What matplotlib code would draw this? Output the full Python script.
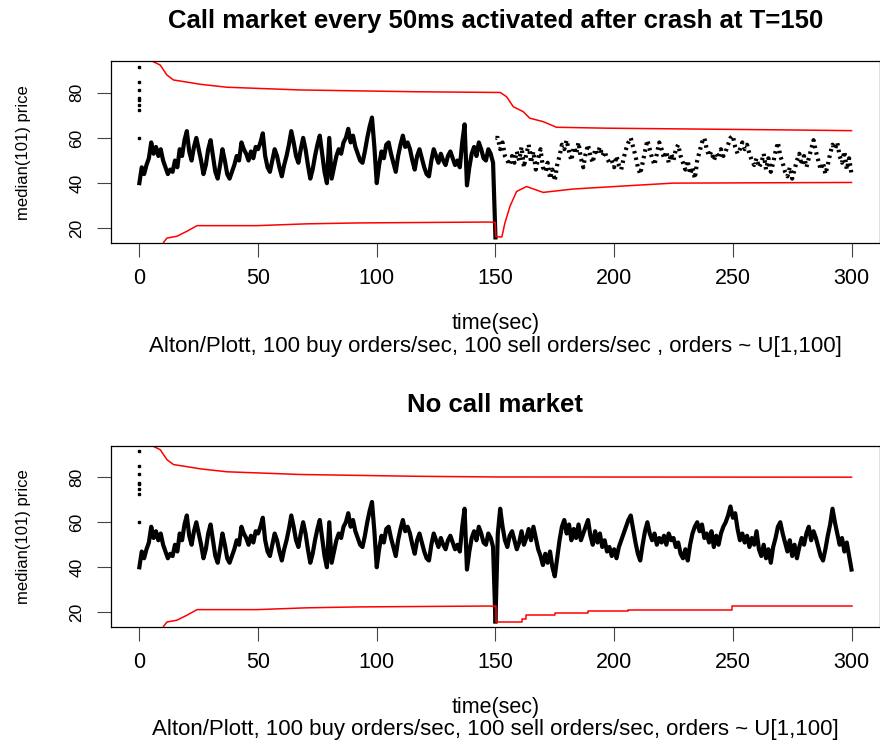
import matplotlib
matplotlib.use("Agg")
import matplotlib.pyplot as plt
import numpy as np

plt.rcParams['font.family'] = ['Liberation Sans', 'DejaVu Sans']

# median price, first 150 sec (same in both runs), one reading per second
t_first = np.arange(0, 151)
price_first = [40, 47, 44, 48, 51, 58, 53, 56, 52, 55,
               50, 47, 44, 46, 45, 50, 47, 55, 52, 59,
               63, 54, 50, 56, 60, 55, 50, 44, 48, 55,
               59, 52, 45, 42, 48, 55, 50, 44, 42, 45,
               48, 52, 50, 58, 55, 53, 50, 54, 51, 56,
               55, 58, 62, 52, 47, 45, 50, 55, 52, 47,
               43, 48, 52, 57, 63, 58, 52, 49, 55, 60,
               55, 48, 42, 46, 52, 57, 61, 53, 45, 40,
               60, 42, 47, 52, 55, 53, 58, 60, 64, 58,
               61, 56, 53, 50, 49, 54, 60, 65, 69, 56,
               40, 48, 54, 51, 57, 58, 53, 49, 45, 52,
               57, 61, 56, 58, 55, 50, 46, 52, 55, 51,
               47, 44, 43, 50, 55, 52, 49, 53, 50, 48,
               52, 54, 51, 48, 50, 47, 58, 66, 39, 47,
               53, 56, 52, 58, 55, 51, 50, 55, 53, 49,
               16]

# first prints at t=0
start_dots = [91.5, 84.9, 81.2, 77.5, 76.8, 74.6, 72.4, 59.9]

t_second = np.arange(151, 301)
# with call market after crash
price_call = [60, 55, 58, 52, 50, 48, 52, 49, 54, 50,
              56, 47, 53, 57, 49, 54, 46, 51, 55, 47,
              45, 49, 42, 46, 41, 48, 52, 57, 55, 59,
              54, 50, 56, 53, 58, 51, 47, 53, 57, 52,
              49, 55, 53, 56, 52, 54, 51, 49, 50, 47,
              52, 48, 46, 51, 55, 58, 60, 56, 52, 47,
              44, 49, 54, 59, 55, 51, 48, 53, 58, 55,
              51, 54, 49, 53, 50, 55, 57, 52, 49, 46,
              50, 44, 47, 42, 50, 54, 58, 60, 55, 52,
              54, 50, 53, 51, 55, 52, 54, 57, 60, 61,
              56, 53, 55, 58, 55, 57, 53, 50, 48, 51,
              47, 49, 53, 46, 51, 45, 49, 54, 58, 52,
              49, 45, 43, 47, 42, 46, 50, 53, 48, 52,
              47, 51, 55, 59, 54, 50, 46, 49, 44, 48,
              53, 57, 55, 58, 52, 49, 54, 46, 51, 44]
# no call market
price_nocall = [55, 66, 58, 52, 49, 54, 56, 52, 48, 51,
                56, 50, 53, 57, 52, 58, 53, 48, 45, 41,
                46, 42, 47, 40, 36, 44, 52, 58, 61, 55,
                59, 52, 57, 53, 59, 52, 55, 58, 61, 54,
                50, 56, 51, 55, 49, 52, 47, 49, 45, 48,
                44, 49, 52, 55, 58, 61, 63, 57, 51, 46,
                43, 50, 56, 60, 55, 52, 55, 50, 53, 51,
                54, 50, 55, 52, 53, 49, 51, 46, 44, 48,
                43, 50, 55, 58, 60, 56, 59, 53, 55, 51,
                56, 49, 54, 50, 55, 58, 60, 63, 67, 62,
                64, 57, 52, 55, 51, 54, 49, 53, 50, 56,
                48, 45, 50, 44, 48, 42, 49, 53, 58, 60,
                55, 51, 47, 52, 45, 50, 44, 49, 53, 50,
                55, 58, 52, 56, 53, 49, 45, 43, 48, 54,
                59, 66, 60, 55, 50, 53, 47, 51, 45, 39]

# red bounds
up_t_first = [5.3, 8.8, 11.6, 14.4, 18.7, 25.7, 36.9, 67.7, 116.8, 150]
up_v_first = [94, 92.2, 87.8, 85.6, 84.9, 83.7, 82.4, 81.2, 80.4, 80.1]
up_t_call = [152, 154.7, 157.5, 161.7, 164.5, 170.1, 175.7, 196.7, 275.2, 300]
up_v_call = [80.1, 78.2, 73.8, 71.6, 68.7, 67.2, 64.7, 64.3, 63.5, 63.2]
up_t_nocall = [300]
up_v_nocall = [80.0]

lo_t_first = [10.2, 11.6, 15.8, 20, 24.3, 49.5, 70.5, 92.3, 147.7, 149.9]
lo_v_first = [13.8, 15.7, 16.5, 18.7, 21.2, 21.2, 22.0, 22.4, 22.8, 22.6]
lo_t_call = [150.2, 152.7, 154, 156.1, 158.9, 163.1, 170.1, 182.7, 205.1, 224.8, 300]
lo_v_call = [16.3, 16.2, 22.4, 29.7, 36.3, 38.5, 35.9, 37.4, 38.8, 40.0, 40.3]
lo_t_nocall = [150.2, 159.5, 161, 163, 175, 189, 206, 249.7, 300]
lo_v_nocall = [15.6, 15.6, 17.0, 19.0, 19.7, 20.4, 21.2, 22.7, 22.8]

titles = ["Call market every 50ms activated after crash at T=150", "No call market"]
subs = ["Alton/Plott, 100 buy orders/sec, 100 sell orders/sec , orders ~ U[1,100]",
        "Alton/Plott, 100 buy orders/sec, 100 sell orders/sec, orders ~ U[1,100]"]

fig = plt.figure(figsize=(8.8, 7.44), dpi=100)
ax1 = fig.add_axes([0.126, 0.673, 0.874, 0.245])
ax2 = fig.add_axes([0.126, 0.157, 0.874, 0.244])

for i, ax in enumerate([ax1, ax2]):
    ax.plot(t_first, price_first, color='black', lw=3.0)
    ax.plot(np.zeros(len(start_dots)), start_dots, 's', color='black', ms=1.8)
    if i == 0:
        ax.plot(np.concatenate([[150], t_second]), [60] + price_call,
                color='black', lw=3.0, ls=(0, (0.6, 1.0)), dash_capstyle='butt')
        ax.plot(up_t_first + up_t_call, up_v_first + up_v_call, color='red', lw=1.1)
        ax.plot(lo_t_first + lo_t_call, lo_v_first + lo_v_call, color='red', lw=1.1)
    else:
        ax.plot(np.concatenate([[150], t_second]), [16] + price_nocall, color='black', lw=3.0)
        ax.plot(up_t_first + up_t_nocall, up_v_first + up_v_nocall, color='red', lw=1.1)
        ax.plot(lo_t_first, lo_v_first, color='red', lw=1.1)
        ax.plot([lo_t_first[-1]] + lo_t_nocall, [lo_v_first[-1]] + lo_v_nocall,
                color='red', lw=1.1, drawstyle='steps-post')
    ax.set_xlim(-12, 312)
    ax.set_ylim(13.4, 94)
    ax.set_xticks([0, 50, 100, 150, 200, 250, 300])
    ax.set_yticks([20, 40, 60, 80])
    ax.tick_params(direction='out', length=10, width=0.8, pad=8, color='#444444')
    ax.tick_params(axis='x', labelsize=15.5)
    ax.tick_params(axis='y', labelsize=12.5, pad=9)
    for lab in ax.get_yticklabels():
        lab.set_rotation(90)
        lab.set_va('center')
    for s in ax.spines.values():
        s.set_linewidth(0.9)
    ax.set_ylabel("median(101) price", fontsize=12)
    ax.yaxis.set_label_coords(-0.104, 0.5)
    ax.set_title(titles[i], fontsize=18.5, fontweight='bold', pad=24)
    ax.text(0.5, -0.44, "time(sec)", transform=ax.transAxes, ha='center', va='center', fontsize=15.5)
    ax.text(0.5, -0.565, subs[i], transform=ax.transAxes, ha='center', va='center', fontsize=16)

fig.savefig("out.png", dpi=100)
